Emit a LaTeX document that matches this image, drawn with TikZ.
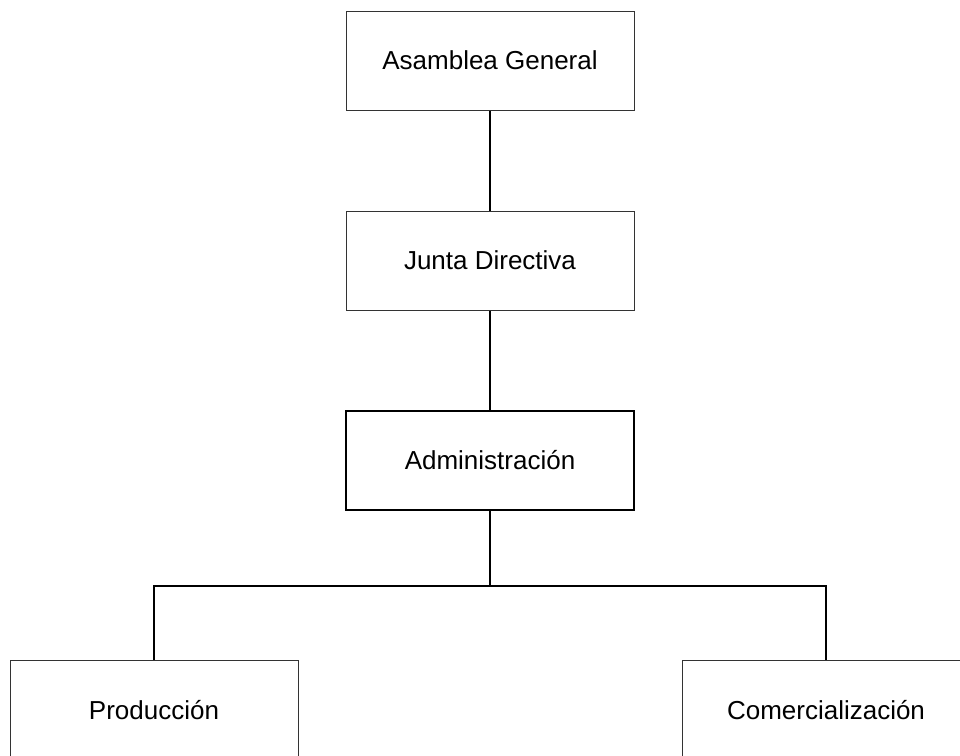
\documentclass[tikz,border=0pt]{standalone}
\usepackage{fontspec}
\setmainfont{Liberation Sans}
\begin{document}
\begin{tikzpicture}[x=1pt,y=-1pt,
  orgbox/.style={draw=black!80,line width=1pt,minimum width=288pt,minimum height=99pt,inner sep=0pt,font=\fontsize{26}{31}\selectfont},
  mainbox/.style={orgbox,draw=black,line width=2pt},
  link/.style={draw=black,line width=1.6pt}]
\path[use as bounding box] (0,0) rectangle (960,755);
\clip (0,0) rectangle (960,755);
\fill[white] (0,0) rectangle (960,755);
\node[orgbox] (asam) at (490,60.5) {Asamblea General};
\node[orgbox] (junta) at (490,260.5) {Junta Directiva};
\node[mainbox] (adm) at (490,460.5) {Administración};
\node[orgbox,minimum height=100pt] (prod) at (154,710) {Producción};
\node[orgbox,minimum height=100pt] (com) at (826,710) {Comercialización};
\coordinate (split) at (490,586);
\draw[link] (asam.south) -- (junta.north);
\draw[link] (junta.south) -- (adm.north);
\draw[link] (adm.south) -- (split);
\draw[link] (prod.north) |- (split) -| (com.north);
\end{tikzpicture}
\end{document}
